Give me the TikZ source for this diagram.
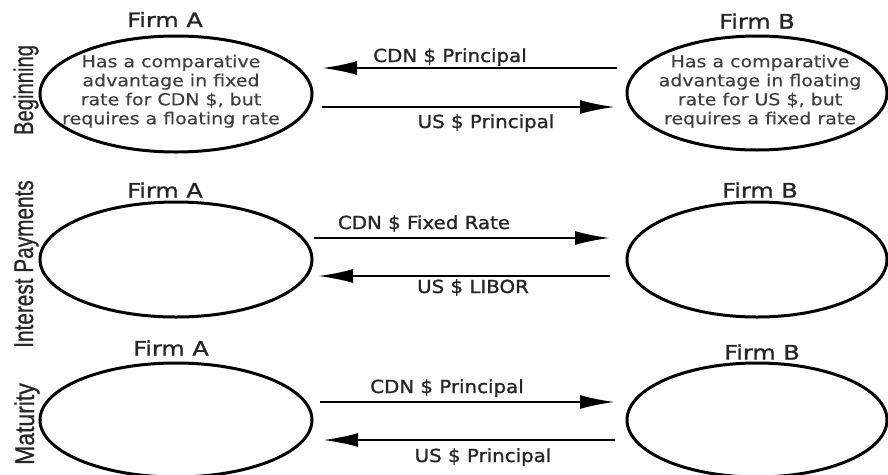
\documentclass[tikz,border=0pt]{standalone}
\usepackage{graphicx}
\usepackage{fontspec}
\setmainfont[FakeBold=0.4]{DejaVu Sans}
\newfontfamily\heavyfont[FakeBold=1.2]{DejaVu Sans}
\newfontfamily\narrowfont[FakeBold=0.8]{Liberation Sans}
\usetikzlibrary{arrows.meta,shapes.geometric}

% horizontal stretching of a piece of text
\newcommand\stretchx[2]{\scalebox{#1}[1]{#2}}

\tikzset{
  firm/.style={ellipse, draw, line width=3pt, inner sep=0pt},
  firmtitle/.style={font=\heavyfont\fontsize{20}{22}\selectfont, text=black!85, inner sep=0pt},
  note/.style={font=\fontsize{16.5}{19}\selectfont, text=black!75, inner sep=0pt},
  flowlabel/.style={font=\heavyfont\fontsize{18}{20}\selectfont, text=black!85, anchor=base, inner sep=0pt},
  stage/.style={font=\narrowfont\fontsize{27}{30}\selectfont, text=black!85, rotate=90, anchor=base, inner sep=0pt},
  flow/.style={line width=2.5pt, -{Latex[length=35pt,width=14pt]}}
}

\begin{document}
\begin{tikzpicture}[x=1pt,y=-1pt]
\useasboundingbox (0,0) rectangle (888,474);

% stage labels on the left
\node[stage] (s1) at (33,90)  {\stretchx{0.75}{Beginning}};
\node[stage] (s2) at (33,264) {\stretchx{0.77}{Interest Payments}};
\node[stage] (s3) at (34,424) {\stretchx{0.85}{Maturity}};

% the two counterparties in each stage
\node[firm, minimum width=272pt, minimum height=116pt] (a1) at (176,94)    {};
\node[firm, minimum width=260pt, minimum height=114pt] (b1) at (757,93)    {};
\node[firm, minimum width=272pt, minimum height=115pt] (a2) at (176,259.5) {};
\node[firm, minimum width=260pt, minimum height=115pt] (b2) at (757,259.5) {};
\node[firm, minimum width=272pt, minimum height=114pt] (a3) at (176,420)   {};
\node[firm, minimum width=260pt, minimum height=114pt] (b3) at (757,420)   {};

\node[firmtitle] (ta1) at (165,19.5) {\stretchx{1.2}{Firm A}};
\node[firmtitle] (tb1) at (757,21)   {\stretchx{1.2}{Firm B}};
\node[firmtitle] (ta2) at (165,190)  {\stretchx{1.2}{Firm A}};
\node[firmtitle] (tb2) at (760,190)  {\stretchx{1.2}{Firm B}};
\node[firmtitle] (ta3) at (171,348)  {\stretchx{1.2}{Firm A}};
\node[firmtitle] (tb3) at (762,352)  {\stretchx{1.2}{Firm B}};

\node[note] (na1) at (171,92) {\stretchx{1.15}{\begin{tabular}{@{}c@{}}Has a comparative\\advantage in fixed\\rate for CDN \$, but\\requires a floating rate\end{tabular}}};
\node[note] (nb1) at (760,92) {\stretchx{1.15}{\begin{tabular}{@{}c@{}}Has a comparative\\advantage in floating\\rate for US \$, but\\requires a fixed rate\end{tabular}}};

% arrow end points
\coordinate (p1a) at (617,68);  \coordinate (p1b) at (322,68);
\coordinate (q1a) at (322,107); \coordinate (q1b) at (615,107);
\coordinate (p2a) at (314,238); \coordinate (p2b) at (610,238);
\coordinate (q2a) at (610,276); \coordinate (q2b) at (318,276);
\coordinate (p3a) at (320,402); \coordinate (p3b) at (615,402);
\coordinate (q3a) at (615,440); \coordinate (q3b) at (323,440);

% exchanges of payments
\draw[flow] (p1a) -- (p1b);
\draw[flow] (q1a) -- (q1b);
\draw[flow] (p2a) -- (p2b);
\draw[flow] (q2a) -- (q2b);
\draw[flow] (p3a) -- (p3b);
\draw[flow] (q3a) -- (q3b);

\node[flowlabel] (l1) at (450,62)  {\stretchx{1.1}{CDN \$ Principal}};
\node[flowlabel] (l2) at (486,128) {\stretchx{1.1}{US \$ Principal}};
\node[flowlabel] (l3) at (424,229) {\stretchx{1.1}{CDN \$ Fixed Rate}};
\node[flowlabel] (l4) at (473,293) {\stretchx{1.1}{US \$ LIBOR}};
\node[flowlabel] (l5) at (447,393) {\stretchx{1.1}{CDN \$ Principal}};
\node[flowlabel] (l6) at (483,462) {\stretchx{1.1}{US \$ Principal}};
\end{tikzpicture}
\end{document}
